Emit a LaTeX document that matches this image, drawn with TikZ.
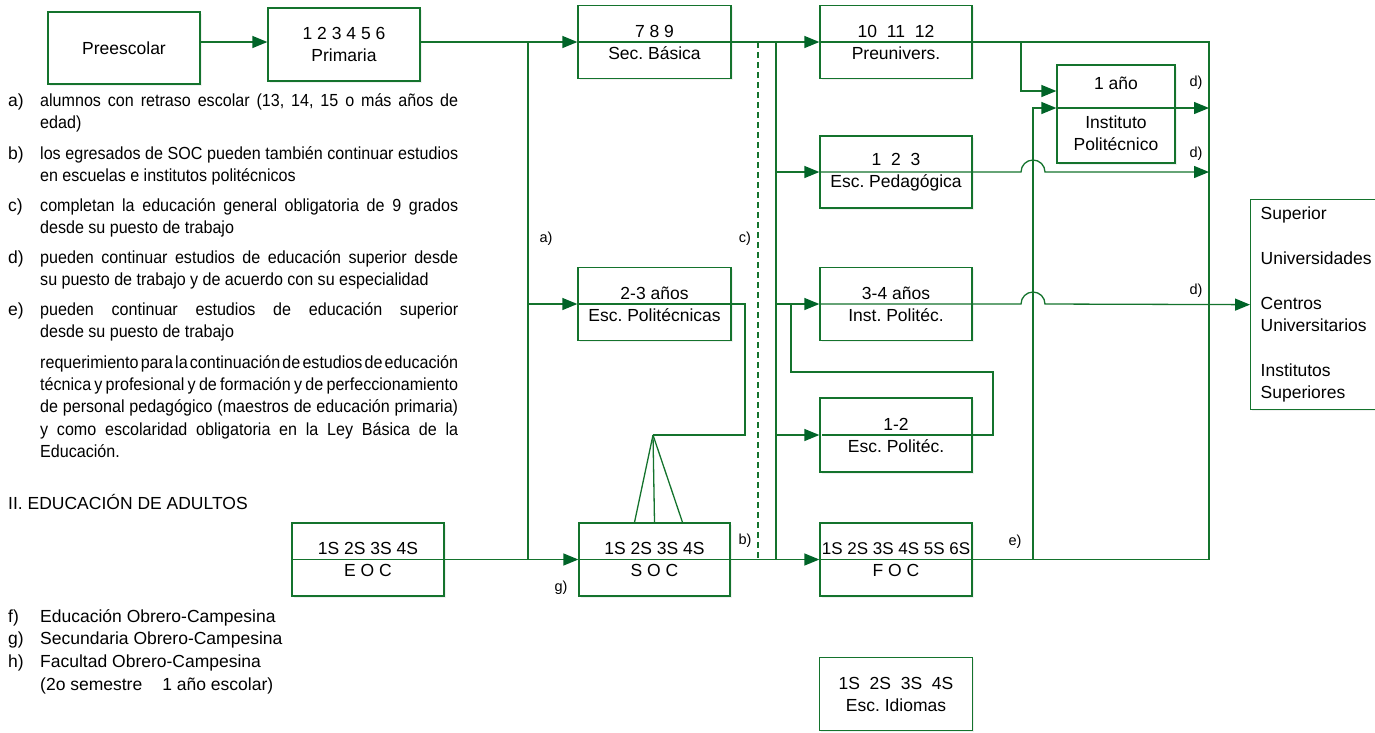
\documentclass[tikz,border=0pt]{standalone}
\usepackage{fontspec}
\setmainfont{Liberation Sans}
\newfontfamily\notefont[FakeStretch=0.92]{Liberation Sans}
\usetikzlibrary{arrows.meta,calc,shadows}

\definecolor{lgreen}{RGB}{20,115,45}
\definecolor{dgreen}{RGB}{0,100,40}
\hyphenpenalty=10000
\exhyphenpenalty=10000
\frenchspacing
\newcommand\notespacing{\spaceskip=.25em plus .8em minus .15em\relax}

\tikzset{
  box/.style={draw=lgreen, line width=1.3pt, fill=white, minimum width=152pt, minimum height=73pt,
    align=center, inner sep=0pt, font=\fontsize{17.5}{22}\selectfont,
    drop shadow={opacity=0.12, shadow xshift=1.5pt, shadow yshift=-1.5pt}},
  wire/.style={draw=lgreen, line width=1.3pt},
  arr/.style={wire, -{Triangle[length=15pt, width=12pt, color=dgreen]}},
  lab/.style={font=\fontsize{14.5}{17}\selectfont, inner sep=0pt},
  txt/.style={anchor=base west, inner sep=0pt, font=\fontsize{17.5}{22.4}\selectfont},
  note/.style={anchor=base west, inner sep=0pt, text width=418pt, align=justify,
    font=\notefont\fontsize{17.5}{22.4}\selectfont\notespacing}
}

\begin{document}
\frenchspacing
\begin{tikzpicture}[x=1pt, y=-1pt]
\useasboundingbox (0,0) rectangle (1375,732);

% bus lines and rows
\coordinate (xa) at (528,0);
\coordinate (xp) at (745,0);
\coordinate (xc) at (758,0);
\coordinate (xb) at (776,0);
\coordinate (xq) at (791,0);
\coordinate (xr) at (993,0);
\coordinate (xh) at (1021,0);
\coordinate (xe) at (1033,0);
\coordinate (xd) at (1209,0);
\coordinate (r91) at (0,91);
\coordinate (r108) at (0,108);
\coordinate (r372) at (0,372);
\coordinate (apex) at (653,435);

% boxes
\node[box, minimum height=72pt] (pre) at (124,48) {Preescolar};
\node[box] (prim) at (344,44.5) {1 2 3 4 5 6\\Primaria};
\node[box, minimum width=153pt] (basica) at (654.5,42) {7 8 9\\Sec. Básica};
\node[box] (preuniv) at (896,42) {10\ \ 11\ \ 12\\Preunivers.};
\node[box, minimum width=118pt, minimum height=98pt] (ipol) at (1116,114) {1 año\\[17pt]Instituto\\Politécnico};
\node[box, minimum height=72pt] (pedag) at (896,172) {1\ \ 2\ \ 3\\Esc. Pedagógica};
\node[box, minimum width=153pt] (escpol) at (654.5,304) {2-3 años\\Esc. Politécnicas};
\node[box] (instpol) at (896,304) {3-4 años\\Inst. Politéc.};
\node[box, minimum height=74pt] (escpt) at (896,435) {1-2\\Esc. Politéc.};
\node[box] (eoc) at (368,559.5) {1S 2S 3S 4S\\E O C};
\node[box, minimum width=151pt] (soc) at (654.5,559.5) {1S 2S 3S 4S\\S O C};
\node[box] (foc) at (896,559.5) {{\fontsize{17}{22}\selectfont 1S 2S 3S 4S 5S 6S}\\F O C};
\node[box, minimum width=153pt] (idiom) at (896,694) {1S\ \ 2S\ \ 3S\ \ 4S\\Esc. Idiomas};
\node[box, anchor=north west, minimum height=210pt, text width=132pt, inner xsep=9pt, align=left] (sup) at (1250,199)
  {Superior\\[23pt]Universidades\\[23pt]Centros\\Universitarios\\[23pt]Institutos\\Superiores};

% top row
\draw[arr] (pre.east |- basica.west) -- (prim.west |- basica.west);
\draw[arr] (prim.east |- basica.west) -- (basica.west);
\draw[arr] (basica.west) -- (preuniv.west);
\draw[wire] (preuniv.west) -| (xd |- foc.west);
\draw[arr] (xh |- basica.west) |- (ipol.west |- r91);

% bus a
\draw[wire] (xa |- basica.west) -- (xa |- soc.west);
\draw[arr] (xa |- escpol.west) -- (escpol.west);

% dashed c
\draw[wire, dash pattern=on 6pt off 4pt] (xc |- basica.west) -- (xc |- soc.west);

% bus b
\draw[wire] (xb |- basica.west) -- (xb |- foc.west);
\draw[arr] (xb |- pedag.west) -- (pedag.west);
\draw[arr] (xb |- instpol.west) -- (instpol.west);
\draw[arr] (xb |- escpt.west) -- (escpt.west);

% adults
\draw[arr] (eoc.west) -- (soc.west);
\draw[arr] (soc.west) -- (foc.west);
\draw[wire] (foc.west) -- (xd |- foc.west);

% e)
\draw[arr] (xe |- foc.west) |- (ipol.west |- r108);
\draw[arr] (ipol.west |- r108) -- (xd |- r108);

% d) with hops
\draw[arr] (pedag.west) -- (xh |- pedag.west) arc[start angle=180, end angle=360, radius=12] -- (xd |- pedag.west);
\draw[arr] (instpol.west) -- (xh |- instpol.west) arc[start angle=180, end angle=360, radius=12] -- (sup.west);

% Esc. Politecnicas down to SOC
\draw[wire] (escpol.west) -| (xp |- apex) -- (apex);
\draw[wire] (apex) -- ($(soc.north)+(-20,0)$);
\draw[wire] (apex) -- (soc.north);
\draw[wire] (apex) -- ($(soc.north)+(28,0)$);

% Inst. Politec. back to Esc. Politec.
\draw[wire] (xq |- instpol.west) |- (xr |- r372) |- ($(escpt.west)+(3,0)$);

% line labels
\node[lab] (la) at (546,239) {a)};
\node[lab] (lc) at (745,239) {c)};
\node[lab] (lb) at (745,541) {b)};
\node[lab] (lg) at (561,588) {g)};
\node[lab] (le) at (1015,542) {e)};
\node[lab] (ld1) at (1196,83) {d)};
\node[lab] (ld2) at (1196,154) {d)};
\node[lab] (ld3) at (1196,291) {d)};

% notes
\node[txt] (ka) at (8,106) {a)};
\node[note] (na) at (40,106) {alumnos con retraso escolar (13, 14, 15 o más años de\linebreak edad)};
\node[txt] (kb) at (8,159) {b)};
\node[note] (nb) at (40,159) {los egresados de SOC pueden también continuar estudios\linebreak en escuelas e institutos politécnicos};
\node[txt] (kc) at (8,211) {c)};
\node[note] (nc) at (40,211) {completan la educación general obligatoria de 9 grados\linebreak desde su puesto de trabajo};
\node[txt] (kd) at (8,263) {d)};
\node[note] (nd) at (40,263) {\parfillskip=0pt pueden continuar estudios de educación superior desde\linebreak su puesto de trabajo y de acuerdo con su especialidad};
\node[txt] (ke) at (8,315) {e)};
\node[note] (ne) at (40,315) {pueden continuar estudios de educación superior\linebreak desde su puesto de trabajo};
\node[note] (nr) at (40,368) {requerimiento para la continuación de estudios de educación\linebreak técnica y profesional y de formación y de perfeccionamiento\linebreak de personal pedagógico (maestros de educación primaria)\linebreak y como escolaridad obligatoria en la Ley Básica de la\linebreak Educación.};

\node[txt] (adult) at (8,509) {II. EDUCACIÓN DE ADULTOS};

\node[txt] (kf) at (8,622) {f)};
\node[txt] (nf) at (40,622) {Educación Obrero-Campesina};
\node[txt] (kg) at (8,644) {g)};
\node[txt] (ng) at (40,644) {Secundaria Obrero-Campesina};
\node[txt] (kh) at (8,667) {h)};
\node[txt] (nh) at (40,667) {Facultad Obrero-Campesina};
\node[txt] (nh2) at (40,690) {(2o semestre\hspace{20pt}1 año escolar)};

\end{tikzpicture}
\end{document}
